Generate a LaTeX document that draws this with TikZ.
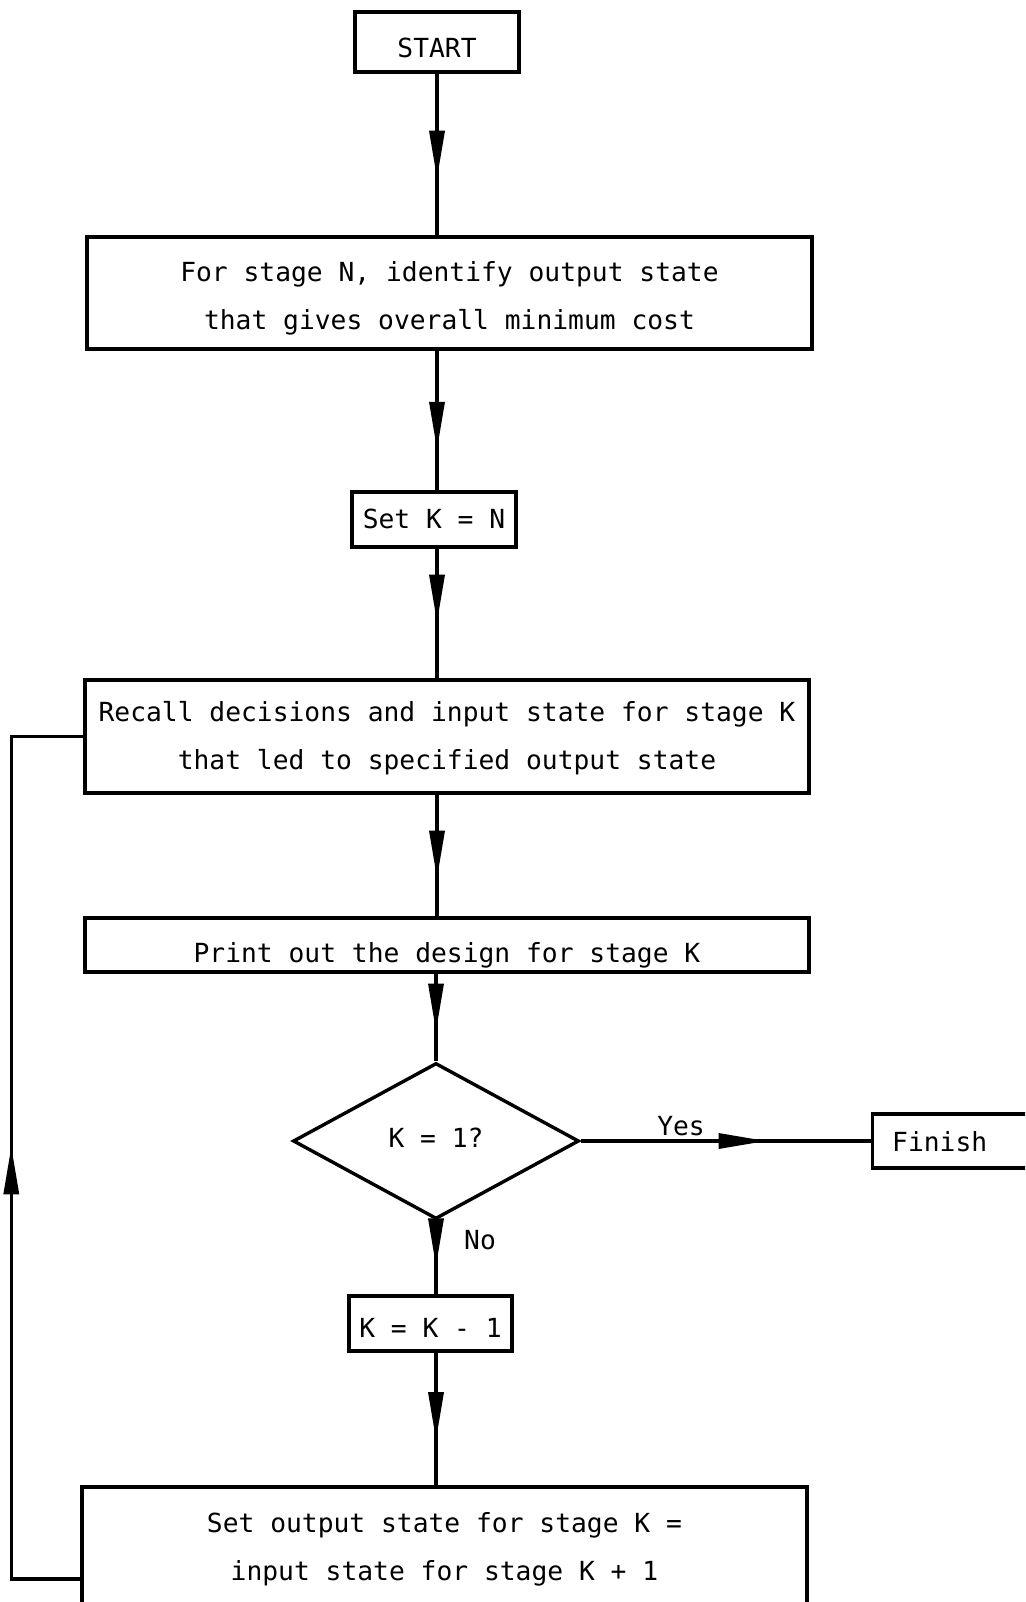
\documentclass[tikz,border=0pt]{standalone}
\usepackage{fontspec}
\setmonofont{DejaVu Sans Mono}
\usetikzlibrary{shapes.geometric,arrows.meta,decorations.markings}

\tikzset{
  lw/.style={line width=3.4pt},
  txt/.style={font=\ttfamily\fontsize{26.3}{48}\selectfont, inner sep=0pt, align=center},
  box/.style={draw, lw, rectangle, inner sep=0pt},
  decision/.style={draw, lw, diamond, inner sep=0pt},
  flow/.style={draw, lw},
  midarrow/.style={postaction={decorate},
    decoration={markings, mark=at position #1 with
      {\arrow{Triangle[length=48pt,width=15pt]}}}},
}

\begin{document}
\begin{tikzpicture}[x=1pt, y=-1pt]
  \clip (0,0) rectangle (1025,1602);
  \fill[white] (0,0) rectangle (1025,1602);

  % spine of the main flow
  \coordinate (spine) at (437,0);

  % boxes
  \node[box, minimum width=164pt, minimum height=60pt] (start) at (437,42) {};
  \node[box, minimum width=725pt, minimum height=112pt] (ident) at (449.5,293) {};
  \node[box, minimum width=164pt, minimum height=55pt] (setk) at (434,519.5) {};
  \node[box, minimum width=724pt, minimum height=113pt] (recall) at (447,736.5) {};
  \node[box, minimum width=724pt, minimum height=54pt] (print) at (447,945) {};
  \node[decision, minimum width=286pt, minimum height=156pt] (test) at (436,1141) {};
  \node[box, anchor=west, minimum width=200pt, minimum height=54pt] (finish) at (871,1141) {};
  \node[box, minimum width=163pt, minimum height=55pt] (dec) at (430.5,1323.5) {};
  \node[box, minimum width=725pt, minimum height=120pt] (update) at (444.5,1547) {};

  % box texts
  \node[txt] (start-t) at ([yshift=-6pt]start.center) {START};
  \node[txt] (ident-t) at ([yshift=-5pt]ident.center)
    {For stage N, identify output state\\that gives overall minimum cost};
  \node[txt] (setk-t) at ([yshift=1pt]setk.center) {Set K = N};
  \node[txt] (recall-t) at ([yshift=-2pt]recall.center)
    {Recall decisions and input state for stage K\\that led to specified output state};
  \node[txt] (print-t) at ([yshift=-10pt]print.center) {Print out the design for stage K};
  \node[txt] (test-t) at ([yshift=3pt]test.center) {K = 1?};
  \node[txt, anchor=west] (finish-t) at ([xshift=21pt,yshift=-1pt]finish.west) {Finish};
  \node[txt] (dec-t) at ([yshift=-4pt]dec.center) {K = K - 1};
  \node[txt] (update-t) at ([yshift=-2pt]update.center)
    {Set output state for stage K =\\input state for stage K + 1};

  % connectors
  \draw[flow, midarrow=0.65] (start.south -| spine) -- (ident.north -| spine);
  \draw[flow, midarrow=0.71] (ident.south -| spine) -- (setk.north -| spine);
  \draw[flow, midarrow=0.57] (setk.south -| spine) -- (recall.north -| spine);
  \draw[flow, midarrow=0.69] (recall.south -| spine) -- (print.north -| spine);
  \draw[flow, midarrow=0.66] (print.south -| test) -- (test.north);
  \draw[flow, midarrow=0.64] (test.east) -- (finish.west);
  \draw[flow, midarrow=0.62] (test.south) -- (test.south |- dec.north);
  \draw[flow, midarrow=0.66] (dec.south -| test) -- (update.north -| test);
  \draw[flow, midarrow=0.51] ([yshift=-32pt]update.west) -- ++(-69,0) |- (recall.west);

  % branch labels
  \node[txt] (yes) at (681,1126) {Yes};
  \node[txt] (no) at (480,1240) {No};
\end{tikzpicture}
\end{document}
